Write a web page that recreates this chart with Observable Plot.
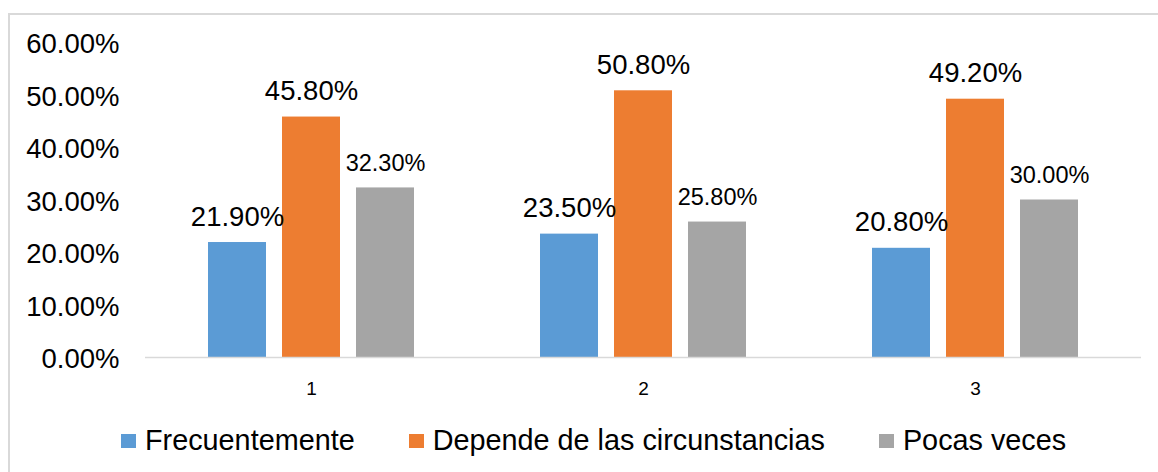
<!DOCTYPE html>
<html>
<head>
<meta charset="utf-8">
<script src="https://cdn.jsdelivr.net/npm/d3@7"></script>
<script src="https://cdn.jsdelivr.net/npm/@observablehq/plot@0.6"></script>
<style>
  html, body { margin: 0; padding: 0; background: #fff; }
  #wrap { position: relative; width: 1158px; height: 472px; overflow: hidden; font-family: "Liberation Sans", Arial, sans-serif; }
  #frame { position: absolute; left: 8px; top: 13px; width: 1200px; height: 520px; border-top: 2px solid #D9D9D9; border-left: 2px solid #D9D9D9; box-sizing: border-box; }
  #chart { position: absolute; left: 0; top: 0; }
  #legend { position: absolute; left: 121px; top: 424px; display: flex; align-items: center; gap: 54px; font-size: 28.8px; line-height: 32px; color: #000; white-space: nowrap; }
  #legend .item { display: flex; align-items: center; }
  #legend .sw { width: 15px; height: 14px; margin-right: 9px; margin-top: 2px; }
</style>
</head>
<body>
<div id="wrap">
  <div id="frame"></div>
  <div id="chart"></div>
  <div id="legend"></div>
</div>
<script>
// Groups on the horizontal axis
const groups = ["1", "2", "3"];
// Answer options, one bar each per group
const series = ["Frecuentemente", "Depende de las circunstancias", "Pocas veces"];
// Shares per group, in the order of the series above
const frecuentemente = [0.219, 0.235, 0.208];
const depende = [0.458, 0.508, 0.492];
const pocasVeces = [0.323, 0.258, 0.300];
// Y axis ticks
const yTicks = [0, 0.1, 0.2, 0.3, 0.4, 0.5, 0.6];

const colors = ["#5B9BD5", "#ED7D31", "#A5A5A5"];

const seriesValues = [frecuentemente, depende, pocasVeces];
const rows = groups.flatMap((g, gi) =>
  series.map((s, si) => ({group: g, series: s, value: seriesValues[si][gi]}))
);

const pct = d3.format(".2%");

const chart = Plot.plot({
  width: 1158,
  height: 400,
  marginLeft: 145,
  marginRight: 17,
  marginTop: 42,
  marginBottom: 43,
  style: {fontFamily: "'Liberation Sans', Arial, sans-serif", color: "#000", background: "transparent"},
  fx: {domain: groups, padding: 0, label: null, axis: null},
  x: {domain: series, paddingInner: 0.216, paddingOuter: 0.851, axis: null},
  y: {domain: [0, 0.6], ticks: yTicks, tickFormat: pct, label: null},
  color: {domain: series, range: colors},
  marks: [
    Plot.axisY({ticks: yTicks, tickFormat: pct, tickSize: 0, tickPadding: 26, fontSize: 27.5, label: null, dy: 2}),
    Plot.barY(rows, {fx: "group", x: "series", y: "value", fill: "series"}),
    Plot.ruleY([0], {stroke: "#D9D9D9", strokeWidth: 1.5}),
    // Group names under the baseline
    Plot.text(groups, {fx: d => d, text: d => d, frameAnchor: "bottom", lineAnchor: "top", dy: 24, fontSize: 19, fill: "#000"}),
    Plot.text(rows, {
      fx: "group", x: "series", y: "value",
      text: d => pct(d.value),
      lineAnchor: "bottom", dy: -17,
      fontSize: d => d.series === series[2] ? 23.5 : 27.5,
      fill: "#000"
    })
  ]
});
document.getElementById("chart").appendChild(chart);

// Legend built from the series and their colours
const legend = d3.select("#legend");
series.forEach((s, i) => {
  const item = legend.append("div").attr("class", "item");
  item.append("div").attr("class", "sw").style("background", colors[i]);
  item.append("span").text(s);
});
</script>
</body>
</html>
